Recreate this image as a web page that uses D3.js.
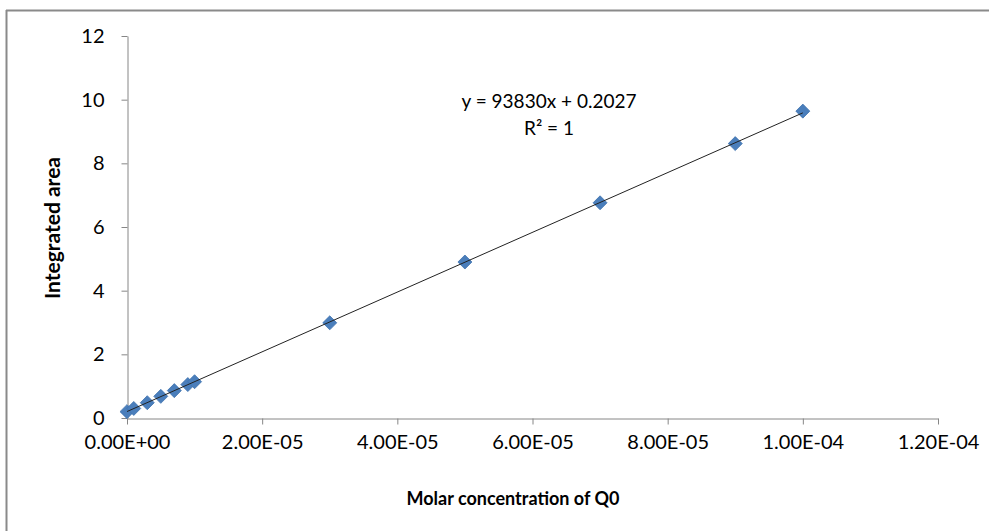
<!DOCTYPE html>
<html>
<head>
<meta charset="utf-8">
<script src="https://cdn.jsdelivr.net/npm/d3@7"></script>
<style>
  html, body { margin: 0; padding: 0; background: #fff; }
  svg { display: block; }
</style>
</head>
<body>
<svg id="chart" width="989" height="531"></svg>
<script>
// Calibration data: molar concentration of Q0 vs integrated peak area
const concentrations = [0, 1e-6, 3e-6, 5e-6, 7e-6, 9e-6, 1e-5, 3e-5, 5e-5, 7e-5, 9e-5, 1e-4];
const areas = [0.20, 0.30, 0.48, 0.68, 0.86, 1.05, 1.14, 2.99, 4.90, 6.76, 8.62, 9.64];

// Linear trendline parameters
const slope = 93830;
const intercept = 0.2027;
const equationLines = ["y = 93830x + 0.2027", "R² = 1"];

const xTicks = [0, 2e-5, 4e-5, 6e-5, 8e-5, 1e-4, 1.2e-4];
const xTickLabels = ["0.00E+00", "2.00E-05", "4.00E-05", "6.00E-05", "8.00E-05", "1.00E-04", "1.20E-04"];
const yTicks = [0, 2, 4, 6, 8, 10, 12];

const xTitle = "Molar concentration of Q0";
const yTitle = "Integrated area";

const svg = d3.select("#chart");
const font = "Lato, 'Open Sans', sans-serif";

// chart frame (top and left edges)
svg.append("line").attr("x1", 6).attr("x2", 989).attr("y1", 10.5).attr("y2", 10.5)
  .attr("stroke", "#8a8a8a").attr("stroke-width", 2);
svg.append("line").attr("x1", 6.5).attr("x2", 6.5).attr("y1", 10).attr("y2", 531)
  .attr("stroke", "#8a8a8a").attr("stroke-width", 2);

const plot = { left: 127, right: 938, top: 36, bottom: 418 };

const x = d3.scaleLinear().domain([0, 1.2e-4]).range([plot.left, plot.right]);
const y = d3.scaleLinear().domain([0, 12]).range([plot.bottom, plot.top]);

const axisColor = "#868686";

// x axis
const xAxis = svg.append("g")
  .attr("transform", `translate(0,${plot.bottom + 0.5})`)
  .call(d3.axisBottom(x).tickValues(xTicks)
    .tickFormat((d, i) => xTickLabels[i]).tickSize(6).tickSizeOuter(0).tickPadding(10));
xAxis.select(".domain").attr("stroke", axisColor);
xAxis.selectAll(".tick line").attr("stroke", axisColor);
xAxis.selectAll(".tick text").attr("fill", "#000").style("font-family", font).style("font-size", "20px");

// y axis
const yAxis = svg.append("g")
  .attr("transform", `translate(${plot.left + 0.5},0)`)
  .call(d3.axisLeft(y).tickValues(yTicks).tickSize(6).tickSizeOuter(0).tickPadding(17));
yAxis.select(".domain").attr("stroke", axisColor);
yAxis.selectAll(".tick line").attr("stroke", axisColor);
yAxis.selectAll(".tick text").attr("fill", "#000").style("font-family", font).style("font-size", "20px");

// axis titles
svg.append("text")
  .attr("x", 513).attr("y", 505)
  .attr("text-anchor", "middle")
  .style("font-family", font).style("font-size", "18px").style("font-weight", "bold")
  .text(xTitle);
svg.append("text")
  .attr("transform", "translate(60,228) rotate(-90)")
  .attr("text-anchor", "middle")
  .style("font-family", font).style("font-size", "21px").style("font-weight", "bold")
  .text(yTitle);

// markers
const diamond = d3.symbol().type(d3.symbolDiamond2).size(125);
svg.append("g").selectAll("path")
  .data(concentrations.map((c, i) => [c, areas[i]]))
  .join("path")
  .attr("d", diamond)
  .attr("transform", d => `translate(${x(d[0])},${y(d[1])})`)
  .attr("fill", "#4a7ebb")
  .attr("stroke", "#3f72ae")
  .attr("stroke-width", 0.8);

// trendline across the data range
const xMin = d3.min(concentrations), xMax = d3.max(concentrations);
svg.append("line")
  .attr("x1", x(xMin)).attr("y1", y(slope * xMin + intercept))
  .attr("x2", x(xMax)).attr("y2", y(slope * xMax + intercept))
  .attr("stroke", "#222").attr("stroke-width", 1);

// regression equation
const eq = svg.append("text")
  .attr("text-anchor", "middle")
  .style("font-family", font).style("font-size", "19px").attr("fill", "#000");
eq.append("tspan").attr("x", 549).attr("y", 108).text(equationLines[0]);
eq.append("tspan").attr("x", 549).attr("y", 135).text(equationLines[1]);
</script>
</body>
</html>
